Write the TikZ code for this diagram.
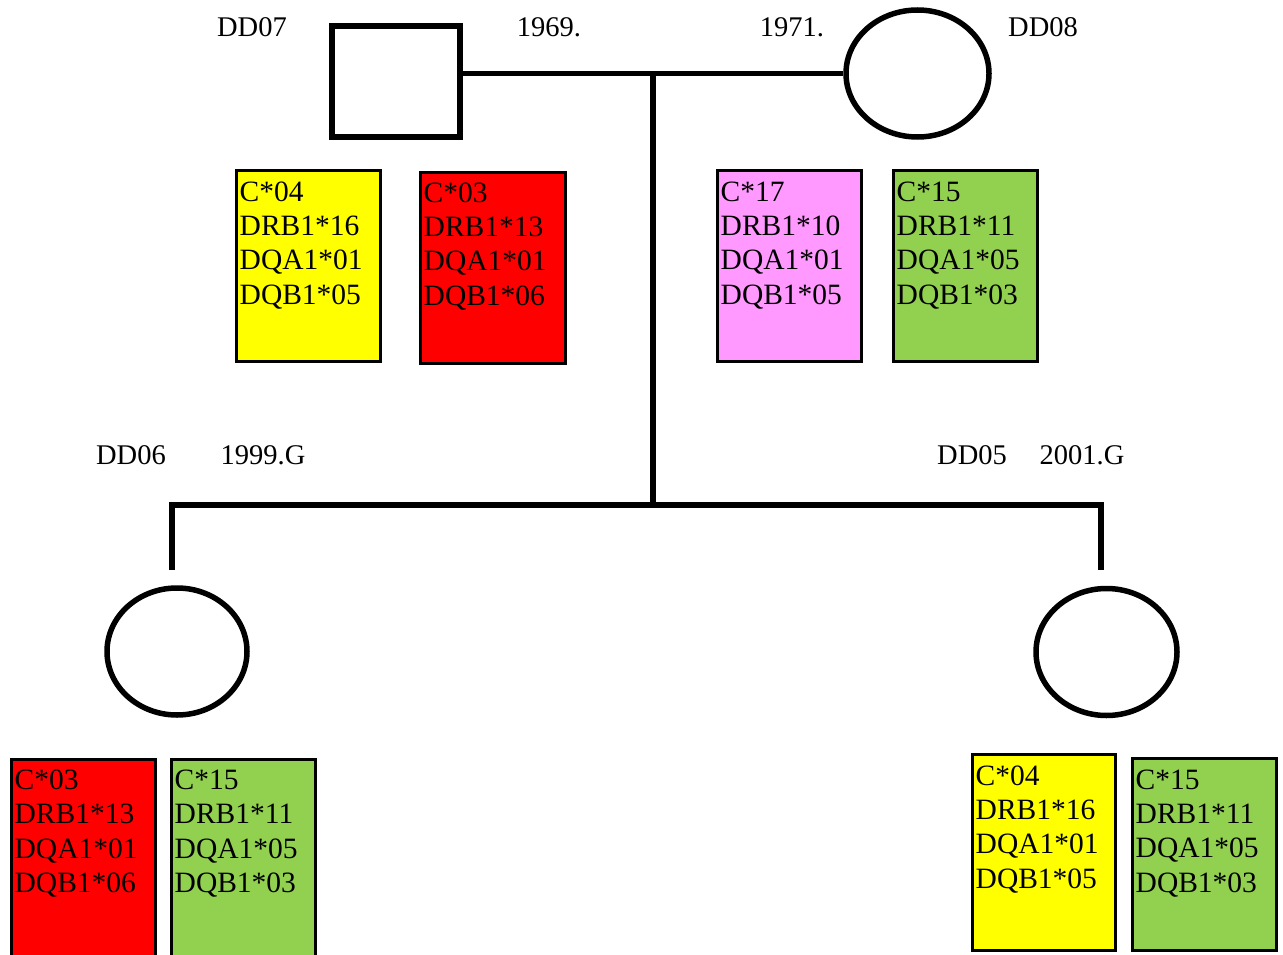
\documentclass[tikz,border=0pt]{standalone}
\usepackage{fontspec}
\setmainfont{Liberation Serif}
\usetikzlibrary{shapes.geometric}
\definecolor{hyellow}{HTML}{FFFF00}
\definecolor{hred}{HTML}{FF0000}
\definecolor{hpink}{HTML}{FF99FF}
\definecolor{hgreen}{HTML}{92D050}
\tikzset{
  line/.style={line width=5.5pt},
  person/.style={draw,line width=5.5pt,inner sep=0pt},
  lbl/.style={anchor=base,inner sep=0pt,font=\fontsize{28.5}{34}\selectfont},
  hbox/.style={draw,line width=3pt,rectangle,inner sep=0pt,minimum width=144pt,minimum height=191pt},
  htext/.style={anchor=base west,inner sep=0pt},
}
\newcommand{\hlalines}[4]{\parbox[t]{140pt}{\fontsize{29.5}{34.4}\selectfont #1\\#2\\#3\\#4}}
\begin{document}
\begin{tikzpicture}[x=1pt,y=-1pt]
\useasboundingbox (0,0) rectangle (1283,955);
% parents
\node[person,rectangle,minimum width=128pt,minimum height=111pt] (father) at (396,81.5) {};
\node[person,ellipse,minimum width=143pt,minimum height=127pt] (mother) at (917.5,73.5) {};
% children
\node[person,ellipse,minimum width=140pt,minimum height=127pt] (child1) at (177,651.5) {};
\node[person,ellipse,minimum width=141pt,minimum height=127pt] (child2) at (1106.5,652) {};
% connectors
\coordinate (mid) at (653,73.5);
\coordinate (sib) at (653,505);
\coordinate (sibL) at (172,505);
\coordinate (sibR) at (1101,505);
\coordinate (dropL) at (172,570);
\coordinate (dropR) at (1101,570);
\draw[line] (father.east |- mid) -- (mother.west |- mid);
\draw[line] (mid) -- (sib);
\draw[line] ([xshift=-2.75pt]sibL) -- ([xshift=2.75pt]sibR);
\draw[line] (sibL) -- (dropL);
\draw[line] (sibR) -- (dropR);
% labels
\node[lbl] (l07) at (252,37) {DD07};
\node[lbl] (l69) at (549,37) {1969.};
\node[lbl] (l71) at (792,37) {1971.};
\node[lbl] (l08) at (1043,37) {DD08};
\node[lbl] (l06) at (131,464) {DD06};
\node[lbl] (l99) at (263,464) {1999.G};
\node[lbl] (l05) at (972,464) {DD05};
\node[lbl] (l01) at (1082,464) {2001.G};
% HLA boxes (parents)
\node[hbox,fill=hyellow] (b1) at (308.5,266) {};
\node[htext] (t1) at ([xshift=4.5pt,yshift=-32pt]b1.north west) {\hlalines{C*04}{DRB1*16}{DQA1*01}{DQB1*05}};
\node[hbox,fill=hred,minimum width=145pt] (b2) at (493,268) {};
\node[htext] (t2) at ([xshift=4.5pt,yshift=-31pt]b2.north west) {\hlalines{C*03}{DRB1*13}{DQA1*01}{DQB1*06}};
\node[hbox,fill=hpink] (b3) at (789.5,266) {};
\node[htext] (t3) at ([xshift=4.5pt,yshift=-32pt]b3.north west) {\hlalines{C*17}{DRB1*10}{DQA1*01}{DQB1*05}};
\node[hbox,fill=hgreen] (b4) at (965.5,266) {};
\node[htext] (t4) at ([xshift=4.5pt,yshift=-32pt]b4.north west) {\hlalines{C*15}{DRB1*11}{DQA1*05}{DQB1*03}};
% HLA boxes (children)
\node[hbox,fill=hred,minimum height=198pt] (b5) at (83.5,858) {};
\node[htext] (t5) at ([xshift=4.5pt,yshift=-32pt]b5.north west) {\hlalines{C*03}{DRB1*13}{DQA1*01}{DQB1*06}};
\node[hbox,fill=hgreen,minimum height=198pt] (b6) at (243.5,858) {};
\node[htext] (t6) at ([xshift=4.5pt,yshift=-32pt]b6.north west) {\hlalines{C*15}{DRB1*11}{DQA1*05}{DQB1*03}};
\node[hbox,fill=hyellow,minimum width=143pt,minimum height=196pt] (b7) at (1044,852.5) {};
\node[htext] (t7) at ([xshift=4.5pt,yshift=-32pt]b7.north west) {\hlalines{C*04}{DRB1*16}{DQA1*01}{DQB1*05}};
\node[hbox,fill=hgreen,minimum height=192pt] (b8) at (1204.5,854.5) {};
\node[htext] (t8) at ([xshift=4.5pt,yshift=-32pt]b8.north west) {\hlalines{C*15}{DRB1*11}{DQA1*05}{DQB1*03}};
\end{tikzpicture}
\end{document}
